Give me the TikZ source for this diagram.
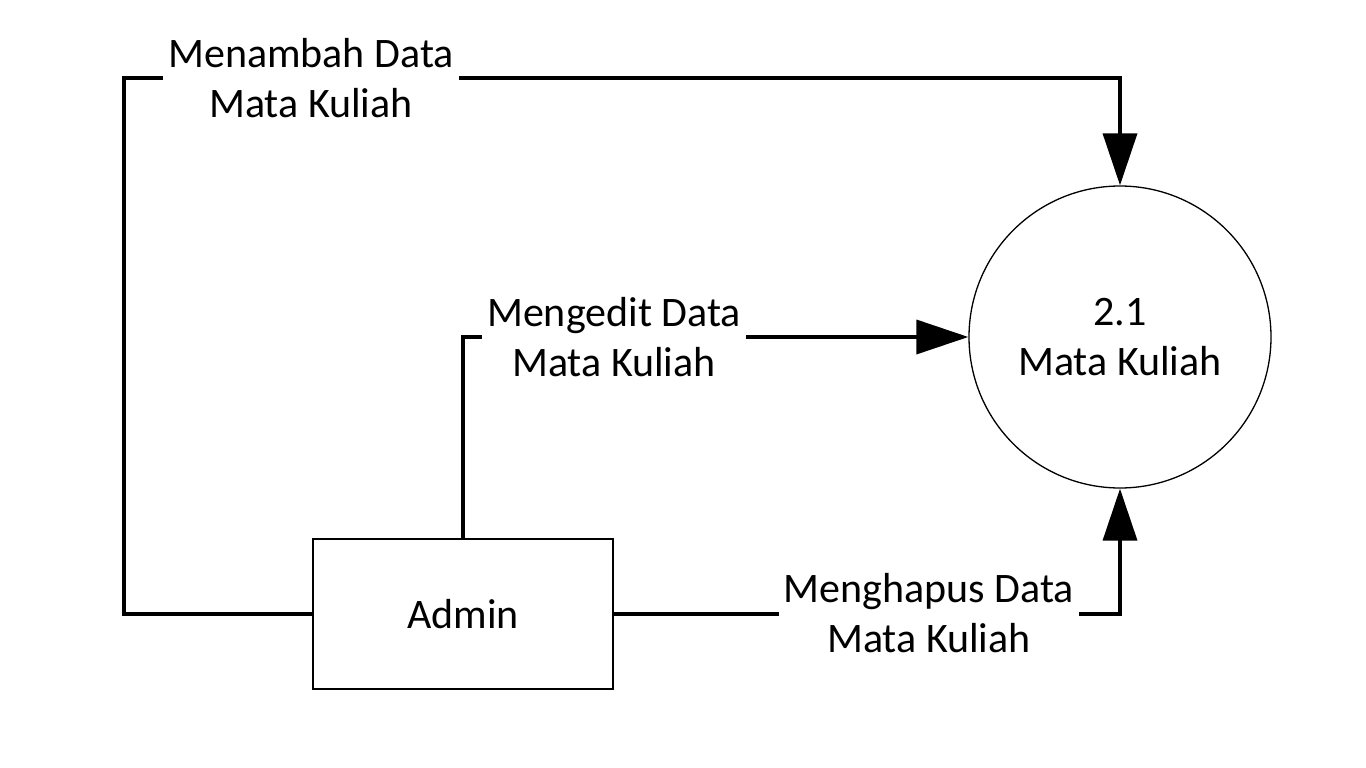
\documentclass[tikz,border=0pt]{standalone}
\usepackage{fontspec}
\setmainfont{Carlito}
\usetikzlibrary{arrows.meta}
\begin{document}
\begin{tikzpicture}[x=1pt,y=-1pt,
  every node/.style={font=\fontsize{42}{50}\selectfont, align=center},
  process/.style={circle, draw, line width=1.3pt, minimum size=302pt, inner sep=0pt},
  entity/.style={rectangle, draw, line width=1.3pt, minimum width=300pt, minimum height=150pt, inner sep=0pt},
  flow/.style={line width=3.6pt, -{Triangle[length=52pt,width=34pt]}},
  flowlabel/.style={fill=white, inner xsep=5pt, inner ysep=2pt}
]
\useasboundingbox (0,0) rectangle (1366,768);
\node[process] (p) at (1120,337) {2.1\\Mata Kuliah};
\node[entity] (admin) at (463,614) {Admin};
\coordinate (c1) at (124,78);

\draw[flow] (admin.west) -| (c1) -| (p.north);
\draw[flow] (admin.north) |- (p.west);
\draw[flow] (admin.east) -| (p.south);

\node[flowlabel] (l1) at (311,78) {Menambah Data\\Mata Kuliah};
\node[flowlabel] (l2) at (614,337) {Mengedit Data\\Mata Kuliah};
\node[flowlabel] (l3) at (929,613) {Menghapus Data\\Mata Kuliah};
\end{tikzpicture}
\end{document}
